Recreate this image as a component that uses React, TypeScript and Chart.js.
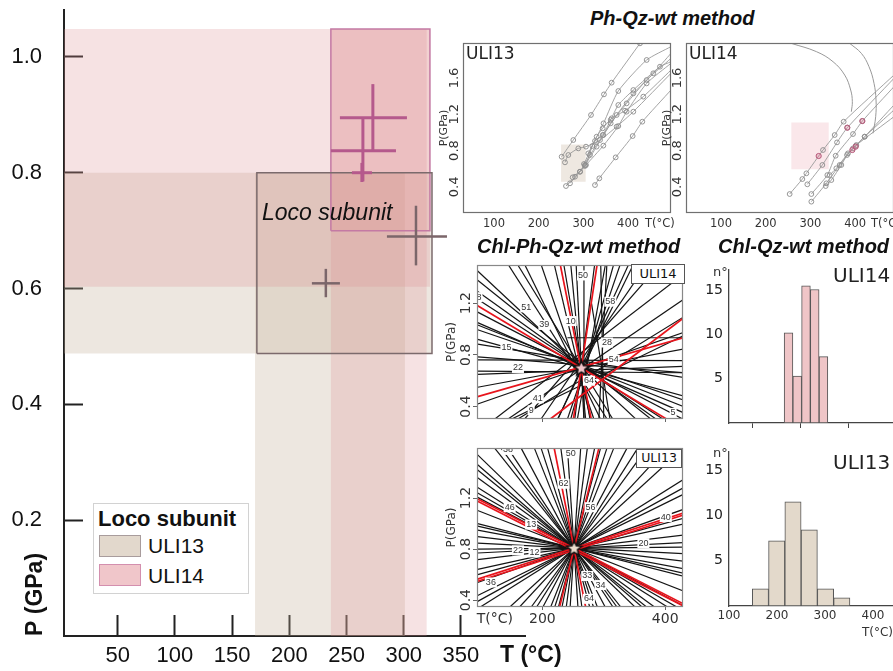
import React, { useEffect, useRef } from 'react';
import { Chart, registerables } from 'chart.js';
Chart.register(...registerables);

const SANS = "'Liberation Sans', Arial, sans-serif";
const VERD = "'DejaVu Sans', Verdana, sans-serif";

// ================= Main P-T diagram data =================
const mainTTicks = [50, 100, 150, 200, 250, 300, 350];
const mainPTicks = [0.2, 0.4, 0.6, 0.8, 1.0];
// [Tmin, Tmax, Pmin, Pmax]
const uli13HBand = [3, 324.7, 0.488, 0.8];
const uli13VBand = [170, 301, 0, 0.8];
const uli14HBand = [3, 322.9, 0.603, 1.048];
const uli14VBand = [236.3, 320, 0, 1.048];
const uli13Box = [171.6, 324.7, 0.488, 0.8];
const uli14Box = [236.3, 322.9, 0.7, 1.048];
// [T, P, Tmin, Tmax, Pmin, Pmax]
const uli14Crosses = [
  [273, 0.895, 244.2, 302.8, 0.838, 0.953],
  [264.3, 0.838, 236.3, 293.2, 0.785, 0.895],
  [263.4, 0.8, 254.7, 272.2, 0.784, 0.817],
];
const uli13Crosses = [
  [231.9, 0.609, 219.7, 244.2, 0.585, 0.634],
  [310.7, 0.69, 285.3, 337.8, 0.64, 0.743],
];

// ================= Ph-Qz-wt insets =================
const phPTicks = [0.4, 0.8, 1.2, 1.6];
const ph13TTicks = [100, 200, 300, 400, 471];
const ph14TTicks = [100, 200, 300, 400, 469];
const ph13Rect = [250, 305, 0.457, 0.868];
const ph14Rect = [257.4, 340.9, 0.593, 1.11];
const ph13Lines = [
  [[251.3, 0.732], [277.4, 0.916], [317, 1.192], [346, 1.419], [363.2, 1.548], [426.6, 1.981]],
  [[261, 0.409], [281.2, 0.512], [303.5, 0.641], [329.6, 0.843], [361, 1.1], [396.7, 1.32], [441.5, 1.577], [496, 1.816]],
  [[270, 0.439], [292.4, 0.567], [314.7, 0.751], [344.6, 0.971], [374.4, 1.192], [411.7, 1.43], [456.4, 1.651], [496, 1.871]],
  [[325.9, 0.42], [335.6, 0.494], [372.2, 0.725], [410.2, 0.96], [431.8, 1.118], [496, 1.467]],
  [[276, 0.505], [303.5, 0.63], [320, 0.85], [345, 1.1], [378.1, 1.456], [441.5, 1.798], [496, 1.945]],
  [[301.3, 0.652], [325.9, 0.905], [343.1, 0.971], [361, 1.137], [378.1, 1.302], [411.7, 1.467], [471.3, 1.724], [496, 1.779]],
  [[311, 0.769], [329.6, 0.953], [343.1, 1.045], [363.2, 1.155], [393, 1.239], [434, 1.394], [496, 1.687]],
  [[258.8, 0.67], [266.3, 0.751], [288.6, 0.824], [305.8, 0.843], [337.1, 0.916], [374.4, 1.063], [411.7, 1.228], [496, 1.651]],
  [[292.4, 0.567], [305.8, 0.641], [344.6, 0.854], [378.1, 1.07], [396.7, 1.228], [441.5, 1.54], [496, 1.761]],
];
const ph14Arcs = [
  [[257.4, 1.981], [313.3, 1.89], [350.6, 1.779], [376.7, 1.632], [390.1, 1.467], [393.8, 1.339], [391.6, 1.228]],
  [[387.9, 1.981], [414, 1.871], [431.1, 1.724], [442.3, 1.541], [446.8, 1.357], [446, 1.173], [440, 0.99]],
];
const ph14Lines = [
  [[253.6, 0.321], [282, 0.486], [291, 0.549], [328.2, 0.806], [354.3, 0.971], [374.4, 1.118], [487, 1.632]],
  [[293.1, 0.428], [326.7, 0.641], [359.5, 0.89], [382.6, 1.052], [487, 1.596]],
  [[302.1, 0.321], [337.9, 0.53], [356.5, 0.743], [395.3, 0.982], [416.2, 1.125], [487, 1.504]],
  [[302.1, 0.237], [335.7, 0.439], [365.5, 0.641], [395.3, 0.824], [421.4, 0.953], [487, 1.302]],
  [[334.2, 0.409], [346.8, 0.475], [369.2, 0.641], [381.9, 0.751], [401.3, 0.85], [421.4, 0.953], [487, 1.247]],
  [[343.1, 0.53], [358, 0.604], [384.1, 0.769], [402.8, 0.861], [487, 1.173]],
];
const ph14PinkPts = [[318.5, 0.74], [382.6, 1.052], [416.2, 1.125], [393.8, 0.806], [401.3, 0.843]];

// ================= Chl-Ph-Qz-wt insets =================
const chlPTicks = [0.4, 0.8, 1.2];
const chlTopTTicks = [200, 400];
const chlBotTTicks = [122.6, 200, 400];
const chl14Star = [263.4, 0.699];
const chl13Star = [251.6, 0.807];
// [T1, P1, T2, P2]
const chl14Red = [
  [94.6, 1.18, 402.1, 0.304],
  [94.6, 0.477, 430.1, 0.933],
  [229, 1.501, 279.5, 0.304],
  [289.2, 1.501, 250.5, 0.304],
  [212.9, 0.304, 430.1, 1.087],
];
const chl14Black = [
  [94.6, 1.378, 430.1, 0.1], [94.6, 1.291, 430.1, 0.15], [94.6, 1.23, 430.1, 0.2],
  [94.6, 1.131, 430.1, 0.3], [94.6, 1.032, 430.1, 0.4], [94.6, 0.995, 430.1, 0.45],
  [94.6, 0.884, 430.1, 0.625], [94.6, 0.785, 430.1, 0.662], [94.6, 0.674, 430.1, 0.662],
  [94.6, 0.65, 430.1, 0.711], [240.8, 0.933, 430.1, 0.933], [94.6, 0.761, 430.1, 0.756],
  [144.1, 1.501, 305.3, 0.304], [171, 1.501, 294.6, 0.304], [197.8, 1.501, 283.8, 0.304],
  [219.3, 1.501, 278.5, 0.304], [246.2, 1.501, 270.4, 0.304], [267.7, 1.501, 267.7, 0.304],
  [302.7, 1.501, 257, 0.304], [316.1, 1.501, 246.2, 0.304], [326.8, 1.501, 240.8, 0.304],
  [348.3, 1.501, 224.7, 0.304], [369.9, 1.501, 197.8, 0.304], [391.4, 1.501, 171, 0.304],
  [430.1, 1.427, 122.6, 0.304], [430.1, 1.23, 144.1, 0.304], [430.1, 1.094, 160.2, 0.304],
  [295, 1.501, 300, 0.304], [305, 1.501, 292, 0.304], [150, 0.304, 430.1, 0.95], [280, 1.2, 310, 0.304],
  [94.6, 1.45, 430.1, -0.043], [94.6, 1.05, 430.1, 0.352], [94.6, 0.92, 430.1, 0.481],
  [94.6, 0.55, 430.1, 0.846], [94.6, 0.42, 430.1, 0.975],
  [160, 1.496, 314.6, 0.304], [235, 1.496, 277.5, 0.304], [255, 1.496, 267.6, 0.304],
  [285, 1.496, 252.7, 0.304], [340, 1.496, 225.4, 0.304],
];
const chl13Red = [
  [94.6, 1.192, 430.1, 0.37], [94.6, 1.175, 430.1, 0.353],
  [94.6, 0.564, 430.1, 1.084], [94.6, 0.548, 430.1, 1.068],
  [219.3, 1.589, 270.4, 0.346], [291.9, 1.589, 228, 0.346],
];
const chl13Black = [
  [94.6, 1.538, 430.1, -0.023], [94.6, 1.461, 430.1, 0.064], [94.6, 1.359, 430.1, 0.179],
  [94.6, 1.282, 430.1, 0.266], [94.6, 1.205, 430.1, 0.354], [94.6, 1.102, 430.1, 0.471],
  [94.6, 1.0, 430.1, 0.587], [94.6, 0.948, 430.1, 0.646], [94.6, 0.897, 430.1, 0.705],
  [94.6, 0.846, 430.1, 0.764], [94.6, 0.769, 430.1, 0.851], [94.6, 0.718, 430.1, 0.91],
  [94.6, 0.641, 430.1, 0.997], [94.6, 0.538, 430.1, 1.112], [94.6, 0.436, 430.1, 1.23],
  [94.6, 0.333, 430.1, 1.346],
  [122.6, 1.589, 327.7, 0.346], [144.1, 1.589, 315, 0.346], [165.6, 1.589, 302.3, 0.346],
  [187.1, 1.589, 289.6, 0.346], [208.6, 1.589, 277, 0.346], [230.1, 1.589, 264.3, 0.346],
  [240.8, 1.589, 257.9, 0.346], [262.3, 1.589, 245.2, 0.346], [273.1, 1.589, 238.9, 0.346],
  [294.6, 1.589, 226.2, 0.346], [316.1, 1.589, 213.5, 0.346], [337.6, 1.589, 200.8, 0.346],
  [369.9, 1.589, 181.8, 0.346], [402.1, 1.589, 162.8, 0.346],
  [94.6, 1.42, 430.1, 0.11], [94.6, 1.24, 430.1, 0.315], [94.6, 0.98, 430.1, 0.61],
  [94.6, 0.8, 430.1, 0.815], [94.6, 0.6, 430.1, 1.042], [94.6, 0.39, 430.1, 1.281],
  [133, 1.589, 321.5, 0.346], [198, 1.589, 283.2, 0.346], [285, 1.589, 231.9, 0.346],
  [305, 1.589, 220.1, 0.346], [355, 1.589, 190.6, 0.346], [429, 1.589, 147, 0.346],
];
const chl14Nums: [string, number, number][] = [
  ['51', 173.6, 1.168], ['39', 203.2, 1.032], ['15', 141.4, 0.854], ['22', 160.2, 0.699],
  ['41', 192.4, 0.464], ['9', 181.7, 0.371], ['8', 96.8, 1.247], ['50', 266.1, 1.415],
  ['58', 310.7, 1.212], ['28', 305.3, 0.896], ['64', 275.8, 0.6], ['10', 246.2, 1.062],
  ['5', 412.9, 0.351], ['54', 316.1, 0.761],
];
const chl13Nums: [string, number, number][] = [
  ['38', 144.1, 1.577], ['50', 246.2, 1.551], ['62', 234.4, 1.312], ['46', 146.7, 1.128],
  ['13', 181.7, 0.992], ['22', 160.2, 0.79], ['12', 187.1, 0.774], ['36', 116.1, 0.538],
  ['64', 275.8, 0.41], ['33', 273.1, 0.589], ['34', 294.6, 0.518], ['20', 364.5, 0.846],
  ['40', 401, 1.051], ['56', 278.5, 1.128],
];

// ================= Chl-Qz-wt histograms =================
const histCountTicks = [5, 10, 15];
const hist14TTicks = [200, 300, 400];
const hist13TTicks = [100, 200, 300, 400];
const hist14Centers = [224, 242.2, 260.4, 278.6, 296.8];
const hist14Counts = [10.2, 5.3, 15.5, 15.1, 7.5];
const hist13Centers = [165.5, 199.4, 233.3, 267.2, 301.1, 335];
const hist13Counts = [1.9, 7.2, 11.5, 8.4, 1.9, 0.9];

// ================= helpers =================
type Box = { cx: number; cy: number; cw: number; ch: number; l: number; t: number; r: number; b: number };
const pt = (a: number[]) => ({ x: a[0], y: a[1] });
const rectPts = (r: number[]) => [
  { x: r[0], y: r[2] }, { x: r[1], y: r[2] }, { x: r[1], y: r[3] }, { x: r[0], y: r[3] }, { x: r[0], y: r[2] },
];
const segDs = (pts: any[], color: string, width: number) => ({
  data: pts, borderColor: color, borderWidth: width, pointRadius: 0, fill: false, tension: 0,
});
const areaDs = (r: number[], fillColor: string, border = 'rgba(0,0,0,0)', bw = 0) => ({
  data: rectPts(r), backgroundColor: fillColor, borderColor: border, borderWidth: bw, pointRadius: 0, fill: 'shape', tension: 0,
});
const tickList = (vals: number[]) => (s: any) => { s.ticks = vals.map((v) => ({ value: v })); };
const baseOpts = (bx: Box) => ({
  animation: false, responsive: false, maintainAspectRatio: false, events: [],
  layout: { padding: { left: 0, top: bx.t - bx.cy, right: bx.cx + bx.cw - bx.r, bottom: 0 } },
  plugins: { legend: { display: false }, tooltip: { enabled: false } },
});
const noPad = (s: any) => { s.paddingTop = 0; s.paddingBottom = 0; s.paddingLeft = 0; s.paddingRight = 0; };
const fixW = (bx: Box) => (s: any) => { s.width = bx.l - bx.cx; noPad(s); };
const fixH = (bx: Box) => (s: any) => { s.height = bx.cy + bx.ch - bx.b; noPad(s); };

function framePlugin(color: string, width: number) {
  return {
    id: 'frame',
    afterDatasetsDraw(chart: any) {
      const { left, top, right, bottom } = chart.chartArea;
      const ctx = chart.ctx;
      ctx.save(); ctx.strokeStyle = color; ctx.lineWidth = width;
      ctx.strokeRect(left + 0.5, top + 0.5, right - left - 1, bottom - top - 1);
      ctx.restore();
    },
  };
}
function rotYPlugin(values: number[], offset: number, font: string, color: string) {
  return {
    id: 'rotY',
    afterDraw(chart: any) {
      const s = chart.scales.y; const ctx = chart.ctx;
      ctx.save(); ctx.font = font; ctx.fillStyle = color; ctx.textAlign = 'center'; ctx.textBaseline = 'middle';
      for (const v of values) {
        const y = s.getPixelForValue(v);
        ctx.save(); ctx.translate(chart.chartArea.left - offset, y); ctx.rotate(-Math.PI / 2);
        ctx.fillText(v.toFixed(1), 0, 0); ctx.restore();
      }
      ctx.restore();
    },
  };
}
function numPlugin(items: [string, number, number][]) {
  return {
    id: 'nums',
    afterDatasetsDraw(chart: any) {
      const ctx = chart.ctx; const xs = chart.scales.x; const ys = chart.scales.y;
      const a = chart.chartArea;
      ctx.save();
      ctx.beginPath(); ctx.rect(a.left, a.top, a.right - a.left, a.bottom - a.top); ctx.clip();
      ctx.font = `9px ${SANS}`; ctx.textAlign = 'center'; ctx.textBaseline = 'middle';
      for (const [t, T, P] of items) {
        const x = xs.getPixelForValue(T); const y = ys.getPixelForValue(P);
        const w = ctx.measureText(t).width;
        ctx.fillStyle = '#fff'; ctx.fillRect(x - w / 2 - 1, y - 5, w + 2, 10);
        ctx.fillStyle = '#333'; ctx.fillText(t, x, y);
      }
      ctx.restore();
    },
  };
}
function starImage(fill: string, size: number) {
  const c = document.createElement('canvas'); c.width = size; c.height = size;
  const g = c.getContext('2d')!;
  const cx = size / 2, cy = size / 2 + 0.5, R = size / 2 - 1.5, r = R * 0.45;
  g.beginPath();
  for (let i = 0; i < 10; i++) {
    const ang = -Math.PI / 2 + (i * Math.PI) / 5;
    const rr = i % 2 === 0 ? R : r;
    g.lineTo(cx + rr * Math.cos(ang), cy + rr * Math.sin(ang));
  }
  g.closePath(); g.fillStyle = fill; g.fill(); g.lineWidth = 1.6; g.strokeStyle = '#111'; g.stroke();
  return c;
}

// ================= chart configs =================
const MAIN: Box = { cx: 0, cy: 0, cw: 540, ch: 671, l: 64, t: 10, r: 525, b: 636 };
const PH13: Box = { cx: 438, cy: 36, cw: 240, ch: 195, l: 463, t: 43, r: 671, b: 213 };
const PH14: Box = { cx: 661, cy: 36, cw: 240, ch: 195, l: 686, t: 43, r: 894, b: 213 };
const CHL14: Box = { cx: 440, cy: 256, cw: 252, ch: 172, l: 477, t: 262, r: 685, b: 423 };
const CHL13: Box = { cx: 440, cy: 439, cw: 252, ch: 190, l: 477, t: 445, r: 685, b: 607 };
const H14: Box = { cx: 700, cy: 262, cw: 200, ch: 170, l: 729, t: 270, r: 893, b: 423 };
const H13: Box = { cx: 700, cy: 444, cw: 200, ch: 227, l: 729, t: 452, r: 893, b: 606 };

function mainConfig(): any {
  const pink = 'rgba(219,139,143,0.25)';
  const beige = 'rgba(195,175,152,0.3)';
  const ds: any[] = [];
  for (const c of uli14Crosses) {
    ds.push(segDs([{ x: c[2], y: c[1] }, { x: c[3], y: c[1] }], '#b5598c', 3));
    ds.push(segDs([{ x: c[0], y: c[4] }, { x: c[0], y: c[5] }], '#b5598c', 3));
  }
  for (const c of uli13Crosses) {
    ds.push(segDs([{ x: c[2], y: c[1] }, { x: c[3], y: c[1] }], '#7b666a', 2.5));
    ds.push(segDs([{ x: c[0], y: c[4] }, { x: c[0], y: c[5] }], '#7b666a', 2.5));
  }
  ds.push(areaDs(uli13Box, 'rgba(0,0,0,0)', '#7b6a6c', 1.5));
  ds.push(areaDs(uli14Box, 'rgba(224,139,141,0.2)', '#c47aa4', 1.5));
  ds.push(areaDs(uli14VBand, pink));
  ds.push(areaDs(uli14HBand, pink));
  ds.push(areaDs(uli13VBand, beige));
  ds.push(areaDs(uli13HBand, beige));
  const grid = (tl: number) => ({ drawOnChartArea: false, tickLength: tl, tickColor: '#222', tickWidth: 2 });
  return {
    type: 'line',
    data: { datasets: ds },
    options: {
      ...baseOpts(MAIN),
      scales: {
        x: {
          type: 'linear', min: 3, max: 406, afterBuildTicks: tickList(mainTTicks), afterFit: fixH(MAIN),
          ticks: { font: { family: SANS, size: 22 }, color: '#111', padding: 28, maxRotation: 0, autoSkip: false },
          grid: grid(-21), border: { color: '#222', width: 2 },
        },
        y: {
          type: 'linear', min: 0, max: 1.081, afterBuildTicks: tickList(mainPTicks), afterFit: fixW(MAIN),
          ticks: { font: { family: SANS, size: 22 }, color: '#111', padding: 41, callback: (v: any) => Number(v).toFixed(1) },
          grid: grid(-19), border: { color: '#222', width: 2 },
          title: { display: true, text: 'P (GPa)', color: '#111', font: { family: SANS, size: 23, weight: 'bold' }, align: 'start', padding: { top: 22, bottom: 0 } },
        },
      },
    },
  };
}

function phConfig(bx: Box, xmin: number, xmax: number, tTicks: number[], rect: number[], rectColor: string,
  lines: number[][][], arcs: number[][][], pinkPts: number[][]): any {
  const ds: any[] = [];
  if (pinkPts.length) {
    ds.push({ data: pinkPts.map(pt), showLine: false, pointRadius: 2.6, pointBorderColor: '#b5597a', pointBackgroundColor: 'rgba(220,120,150,0.35)', pointBorderWidth: 1 });
  }
  for (const l of lines) {
    ds.push({
      data: l.map(pt), borderColor: '#9a9a9a', borderWidth: 0.9, tension: 0.2, fill: false,
      pointRadius: (c: any) => (c.raw && c.raw.x >= 480 ? 0 : 2.4), pointBorderColor: '#8a8a8a',
      pointBackgroundColor: 'rgba(0,0,0,0)', pointBorderWidth: 0.9,
    });
  }
  for (const a of arcs) {
    ds.push({ data: a.map(pt), borderColor: '#999', borderWidth: 1, tension: 0.4, fill: false, pointRadius: 0 });
  }
  ds.push(areaDs(rect, rectColor));
  return {
    type: 'line',
    data: { datasets: ds },
    options: {
      ...baseOpts(bx),
      scales: {
        x: {
          type: 'linear', min: xmin, max: xmax, afterBuildTicks: tickList(tTicks), afterFit: fixH(bx),
          ticks: { font: { family: VERD, size: 11.5 }, color: '#333', padding: 4, maxRotation: 0, autoSkip: false,
            callback: (v: any) => (v > 450 ? 'T(°C)' : String(v)) },
          grid: { drawOnChartArea: false, drawTicks: false }, border: { display: false },
        },
        y: {
          type: 'linear', min: 0.112, max: 1.985, afterBuildTicks: tickList(phPTicks), afterFit: fixW(bx),
          ticks: { display: false }, grid: { drawOnChartArea: false, drawTicks: false }, border: { display: false },
          title: { display: true, text: 'P(GPa)', color: '#333', font: { family: VERD, size: 11 }, padding: { top: 0, bottom: 0 } },
        },
      },
    },
    plugins: [framePlugin('#707070', 1.2), rotYPlugin(phPTicks, 8, `13px ${VERD}`, '#333')],
  };
}

function chlConfig(bx: Box, ymin: number, ymax: number, star: number[], starFill: string, red: number[][], black: number[][],
  nums: [string, number, number][], tTicks: number[], showX: boolean): any {
  const ds: any[] = [];
  ds.push({ data: [pt(star)], showLine: false, pointRadius: 8, pointStyle: starImage(starFill, 19) });
  for (const r of red) ds.push(segDs([{ x: r[0], y: r[1] }, { x: r[2], y: r[3] }], '#e8141c', 1.7));
  for (const b of black) ds.push(segDs([{ x: b[0], y: b[1] }, { x: b[2], y: b[3] }], '#141414', 1.2));
  return {
    type: 'line',
    data: { datasets: ds },
    options: {
      ...baseOpts(bx),
      scales: {
        x: {
          type: 'linear', min: 93.5, max: 429, afterBuildTicks: tickList(tTicks), afterFit: fixH(bx),
          ticks: { display: showX, font: { family: VERD, size: 14 }, color: '#333', padding: 1, maxRotation: 0, autoSkip: false,
            callback: (v: any) => (v < 150 ? 'T(°C)' : String(v)) },
          grid: { drawOnChartArea: false, tickLength: 3, tickColor: (c: any) => (c.tick && c.tick.value < 150 ? 'rgba(0,0,0,0)' : '#666') },
          border: { display: false },
        },
        y: {
          type: 'linear', min: ymin, max: ymax, afterBuildTicks: tickList(chlPTicks), afterFit: fixW(bx),
          ticks: { display: false }, grid: { drawOnChartArea: false, tickLength: 4, tickColor: '#666' }, border: { display: false },
          title: { display: true, text: 'P(GPa)', color: '#333', font: { family: VERD, size: 12 }, padding: { top: 5, bottom: 0 } },
        },
      },
    },
    plugins: [numPlugin(nums), framePlugin('#888', 1.2), rotYPlugin(chlPTicks, 11, `14px ${VERD}`, '#333')],
  };
}

function histConfig(bx: Box, ymax: number, centers: number[], counts: number[], fill: string, tTicks: number[], showX: boolean): any {
  return {
    type: 'bar',
    data: {
      datasets: [{
        data: centers.map((c, i) => ({ x: c, y: counts[i] })), backgroundColor: fill, borderColor: '#555',
        borderWidth: 1, borderSkipped: false, barPercentage: 1, categoryPercentage: 1,
      }],
    },
    options: {
      ...baseOpts(bx),
      scales: {
        x: {
          type: 'linear', min: 100, max: 441.7, offset: false, afterBuildTicks: tickList(tTicks), afterFit: fixH(bx),
          ticks: { display: showX, font: { family: VERD, size: 12 }, color: '#333', padding: 3, maxRotation: 0, autoSkip: false },
          grid: { drawOnChartArea: false, drawTicks: !showX, tickLength: 5, tickColor: '#444' },
          border: { color: '#444', width: 1.3 },
          title: { display: showX, text: 'T(°C)', align: 'end', color: '#333', font: { family: VERD, size: 12 }, padding: { top: 0, bottom: 31 } },
        },
        y: {
          type: 'linear', min: 0, max: ymax, afterBuildTicks: tickList(histCountTicks), afterFit: fixW(bx),
          ticks: { font: { family: VERD, size: 14 }, color: '#222', padding: 6 },
          grid: { drawOnChartArea: false, drawTicks: false }, border: { color: '#444', width: 1.3 },
        },
      },
    },
  };
}

// ================= components =================
function ChartCanvas({ box, make }: { box: Box; make: () => any }) {
  const ref = useRef<HTMLCanvasElement>(null);
  useEffect(() => {
    const chart = new Chart(ref.current as HTMLCanvasElement, make());
    return () => chart.destroy();
  }, []);
  return (
    <canvas ref={ref} width={box.cw} height={box.ch}
      style={{ position: 'absolute', left: box.cx, top: box.cy, width: box.cw, height: box.ch }} />
  );
}

const txt = (extra: React.CSSProperties): React.CSSProperties => ({
  position: 'absolute', whiteSpace: 'nowrap', lineHeight: 1, color: '#111', ...extra,
});

export default function App() {
  return (
    <div style={{ position: 'absolute', left: 0, top: 0, width: 893, height: 671, overflow: 'hidden', background: '#fff', fontFamily: SANS }}>
      <ChartCanvas box={MAIN} make={mainConfig} />
      <ChartCanvas box={PH13} make={() => phConfig(PH13, 30.6, 496, ph13TTicks, ph13Rect, 'rgba(205,190,170,0.35)', ph13Lines, [], [])} />
      <ChartCanvas box={PH14} make={() => phConfig(PH14, 21.7, 487, ph14TTicks, ph14Rect, 'rgba(235,160,170,0.25)', ph14Lines, ph14Arcs, ph14PinkPts)} />
      <ChartCanvas box={CHL14} make={() => chlConfig(CHL14, 0.304, 1.496, chl14Star, '#f2c4c8', chl14Red, chl14Black, chl14Nums, chlTopTTicks, false)} />
      <ChartCanvas box={CHL13} make={() => chlConfig(CHL13, 0.346, 1.592, chl13Star, '#ecdccd', chl13Red, chl13Black, chl13Nums, chlBotTTicks, true)} />
      <ChartCanvas box={H14} make={() => histConfig(H14, 17.3, hist14Centers, hist14Counts, '#efc5c7', hist14TTicks, false)} />
      <ChartCanvas box={H13} make={() => histConfig(H13, 17, hist13Centers, hist13Counts, '#e3d9cb', hist13TTicks, true)} />

      {/* main chart annotations */}
      <div style={txt({ left: 262, top: 201, fontSize: 23, fontStyle: 'italic' })}>Loco subunit</div>
      <div style={txt({ left: 500, top: 643, fontSize: 23, fontWeight: 'bold' })}>T (°C)</div>
      <div style={{ position: 'absolute', left: 93, top: 503, width: 154, height: 89, border: '1px solid #d2d2d2', background: '#fff' }} />
      <div style={txt({ left: 98, top: 508, fontSize: 22, fontWeight: 'bold' })}>Loco subunit</div>
      <div style={{ position: 'absolute', left: 99, top: 535, width: 40, height: 20, background: '#e2d8cc', border: '1px solid #a89c9c' }} />
      <div style={{ position: 'absolute', left: 99, top: 564, width: 40, height: 20, background: '#f0c6ca', border: '1px solid #d38fae' }} />
      <div style={txt({ left: 148, top: 535, fontSize: 21 })}>ULI13</div>
      <div style={txt({ left: 148, top: 565, fontSize: 21 })}>ULI14</div>

      {/* inset titles */}
      <div style={txt({ left: 590, top: 8, fontSize: 20, fontWeight: 'bold', fontStyle: 'italic' })}>Ph-Qz-wt method</div>
      <div style={txt({ left: 477, top: 236, fontSize: 20, fontWeight: 'bold', fontStyle: 'italic' })}>Chl-Ph-Qz-wt method</div>
      <div style={txt({ left: 718, top: 236, fontSize: 20, fontWeight: 'bold', fontStyle: 'italic' })}>Chl-Qz-wt method</div>

      <div style={txt({ left: 466, top: 45, fontSize: 17, fontFamily: VERD, color: '#222' })}>ULI13</div>
      <div style={txt({ left: 689, top: 45, fontSize: 17, fontFamily: VERD, color: '#222' })}>ULI14</div>

      <div style={txt({ left: 631, top: 264, width: 52, height: 16, border: '1px solid #555', background: '#fff', fontSize: 13, fontFamily: VERD, textAlign: 'center', paddingTop: 2 })}>ULI14</div>
      <div style={txt({ left: 636, top: 449, width: 44, height: 15, border: '1px solid #555', background: '#fff', fontSize: 12.5, fontFamily: VERD, textAlign: 'center', paddingTop: 2 })}>ULI13</div>

      <div style={txt({ left: 713, top: 265, fontSize: 13, fontFamily: VERD, color: '#333' })}>n°</div>
      <div style={txt({ left: 713, top: 446, fontSize: 13, fontFamily: VERD, color: '#333' })}>n°</div>
      <div style={txt({ left: 833, top: 265, fontSize: 20, fontFamily: VERD, color: '#222' })}>ULI14</div>
      <div style={txt({ left: 833, top: 452, fontSize: 20, fontFamily: VERD, color: '#222' })}>ULI13</div>
    </div>
  );
}
